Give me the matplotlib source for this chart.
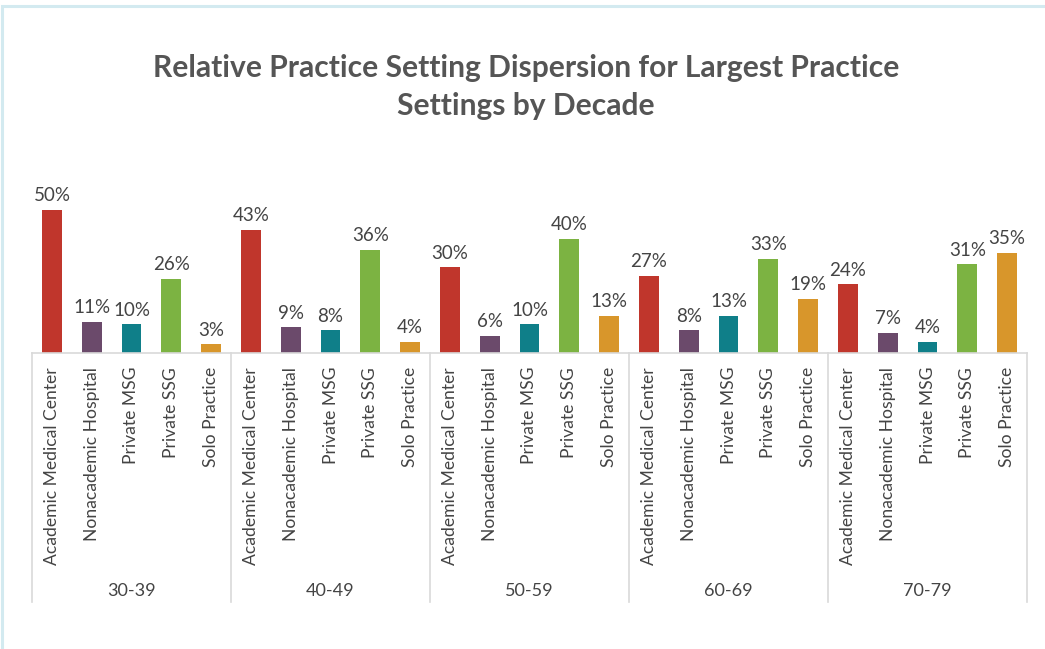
import numpy as np
import matplotlib
matplotlib.use('Agg')
import matplotlib.pyplot as plt
from matplotlib.patches import Rectangle
from matplotlib.transforms import blended_transform_factory

# Data
decades = ['30-39', '40-49', '50-59', '60-69', '70-79']
settings = ['Academic Medical Center', 'Nonacademic Hospital', 'Private MSG',
            'Private SSG', 'Solo Practice']
values = [
    [50, 11, 10, 26, 3],
    [43, 9, 8, 36, 4],
    [30, 6, 10, 40, 13],
    [27, 8, 13, 33, 19],
    [24, 7, 4, 31, 35],
]
colors = ['#C0362C', '#6B4A6B', '#0F7F89', '#7CB342', '#D8962B']

plt.rcParams['font.family'] = ['Lato', 'DejaVu Sans']

W, H = 1045, 649
fig = plt.figure(figsize=(W / 100, H / 100), dpi=100)

# light blue frame around the image
fig.add_artist(Rectangle((2 / W, -0.1), 1.2, 1.1 - 6 / H, transform=fig.transFigure,
                         fill=False, edgecolor='#D3EAF0', linewidth=2.2))

# axes placed in pixel terms
left, right, base, top = 32, 1027, 353, 180
ax = fig.add_axes([left / W, 1 - base / H, (right - left) / W, (base - top) / H])

n = len(settings)
x = []
heights = []
bar_colors = []
labels = []
for g, vals in enumerate(values):
    for i, v in enumerate(vals):
        x.append(g * n + i)
        heights.append(v)
        bar_colors.append(colors[i])
        labels.append(settings[i])

bars = ax.bar(x, heights, width=0.5, color=bar_colors)
for b, v in zip(bars, heights):
    ax.annotate(f'{v}%', (b.get_x() + b.get_width() / 2, v), xytext=(0, 4),
                textcoords='offset points', ha='center', va='bottom',
                fontsize=13.5, color='#444444')

ax.set_xlim(-0.5, len(x) - 0.5)
ax.set_ylim(0, (base - top) / 2.86)
ax.set_yticks([])
ax.set_xticks(x)
ax.set_xticklabels(labels, rotation=90, fontsize=12.6, color='#444444', va='top')
ax.tick_params(axis='x', length=0, pad=10)
for s in ['top', 'right', 'left']:
    ax.spines[s].set_visible(False)
ax.spines['bottom'].set_color('#D9D9D9')
ax.spines['bottom'].set_linewidth(1.2)

# group separators and group labels
trans = blended_transform_factory(ax.transData, ax.transAxes)
ax_h = base - top
y_low = -(602 - base) / ax_h
for g in range(len(decades) + 1):
    xs = g * n - 0.5
    ax.plot([xs, xs], [0, y_low], transform=trans, color='#D9D9D9',
            linewidth=1.2, clip_on=False)
for g, d in enumerate(decades):
    ax.text(g * n + (n - 1) / 2, -(591 - base) / ax_h, d, transform=trans,
            ha='center', va='center', fontsize=13, color='#444444')

fig.text(526 / W, 1 - 87 / H,
         'Relative Practice Setting Dispersion for Largest Practice\nSettings by Decade',
         ha='center', va='center', fontsize=21.6, fontweight='bold',
         color='#555555', linespacing=1.4)

fig.savefig('out.png', dpi=100)
